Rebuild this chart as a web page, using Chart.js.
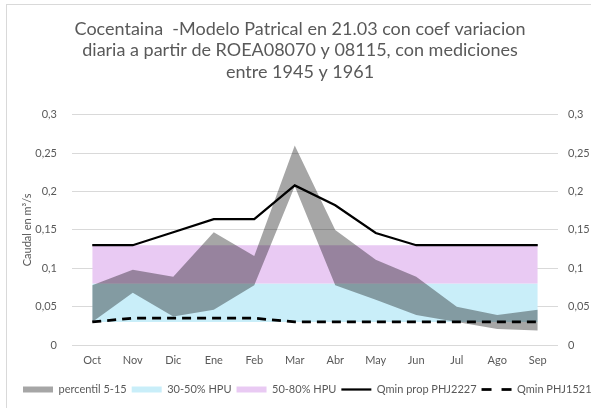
<!DOCTYPE html>
<html>
<head>
<meta charset="utf-8">
<script src="https://cdn.jsdelivr.net/npm/chart.js@4"></script>
<style>
html,body{margin:0;padding:0;background:#fff;overflow:hidden;}
#wrap{position:absolute;left:0;top:0;width:591px;height:408px;}
#frame{position:absolute;left:6px;top:4px;width:700px;height:600px;border:1px solid #d9d9d9;box-sizing:border-box;}
canvas{position:absolute;left:0;top:0;}
</style>
</head>
<body>
<div id="wrap"><div id="frame"></div><canvas id="c" width="591" height="408"></canvas></div>
<script>
const titleLines = ['Cocentaina  -Modelo Patrical en 21.03 con coef variacion','diaria a partir de ROEA08070 y 08115, con mediciones','entre 1945 y 1961'];
const months = ['Oct','Nov','Dic','Ene','Feb','Mar','Abr','May','Jun','Jul','Ago','Sep'];
const percentil5 = [0.030,0.068,0.037,0.046,0.078,0.207,0.078,0.059,0.039,0.030,0.021,0.019];
const percentil15 = [0.078,0.098,0.089,0.147,0.116,0.260,0.150,0.111,0.089,0.050,0.039,0.046];
const hpu30 = [0.03,0.03,0.03,0.03,0.03,0.03,0.03,0.03,0.03,0.03,0.03,0.03];
const hpu50 = [0.08,0.08,0.08,0.08,0.08,0.08,0.08,0.08,0.08,0.08,0.08,0.08];
const hpu80 = [0.13,0.13,0.13,0.13,0.13,0.13,0.13,0.13,0.13,0.13,0.13,0.13];
const qminProp = [0.130,0.130,0.147,0.164,0.164,0.208,0.182,0.146,0.130,0.130,0.130,0.130];
const qmin1521 = [0.030,0.035,0.035,0.035,0.035,0.030,0.030,0.030,0.030,0.030,0.030,0.030];
const yTicks = [0,0.05,0.1,0.15,0.2,0.25,0.3];
const legendNames = ['percentil 5-15','30-50% HPU','50-80% HPU','Qmin prop PHJ2227','Qmin PHJ1521'];

const FONT = 'Lato';
const TXT = '#595959';
const GREY = 'rgba(0,0,0,0.35)';
const CYAN = '#c9eef9';
const PURPLE = '#e9caf3';

const fmt = v => String(Number(v.toFixed(2))).replace('.', ',');

const boxPos = {
  id: 'boxPos',
  beforeLayout(chart) {
    const lg = chart.legend;
    if (lg && !lg.__patched) {
      const u = lg.update;
      lg.update = function(mw, mh, m) { return u.call(this, mw + 40, mh, m); };
      lg.__patched = true;
    }
  },
  afterLayout(chart) {
    chart.legend.left = 18;
    chart.legend.right = 640;
    chart.titleBlock.left = 9;
  }
};

new Chart(document.getElementById('c'), {
  type: 'line',
  data: {
    labels: months,
    datasets: [
      {label: legendNames[3], data: qminProp, borderColor: '#000', borderWidth: 2.25, pointRadius: 0, fill: false, order: 0, tension: 0},
      {label: legendNames[4], data: qmin1521, borderColor: '#000', borderWidth: 2.75, borderDash: [9, 6], pointRadius: 0, fill: false, order: 1, tension: 0},
      {label: legendNames[0], data: percentil15, borderWidth: 0, borderColor: 'transparent', backgroundColor: GREY, pointRadius: 0, fill: 3, order: 2},
      {label: 'p5', data: percentil5, borderWidth: 0, borderColor: 'transparent', pointRadius: 0, fill: false, order: 3},
      {label: legendNames[2], data: hpu80, borderWidth: 0, borderColor: 'transparent', backgroundColor: PURPLE, pointRadius: 0, fill: 5, order: 4},
      {label: legendNames[1], data: hpu50, borderWidth: 0, borderColor: 'transparent', backgroundColor: CYAN, pointRadius: 0, fill: 6, order: 5},
      {label: 'base', data: hpu30, borderWidth: 0, borderColor: 'transparent', pointRadius: 0, fill: false, order: 6}
    ]
  },
  options: {
    responsive: false,
    animation: false,
    devicePixelRatio: 1,
    layout: {padding: {left: 0, right: 0, top: 0, bottom: 3}},
    plugins: {
      tooltip: {enabled: false},
      title: {
        display: true,
        text: titleLines,
        color: TXT,
        font: {family: FONT, size: 18, weight: 'normal', lineHeight: 1.2},
        padding: {top: 18, bottom: 32}
      },
      legend: {
        position: 'bottom',
        align: 'start',
        onClick: null,
        labels: {
          color: TXT,
          font: {family: FONT, size: 11},
          padding: 5,
          usePointStyle: true,
          pointStyleWidth: 30,
          boxHeight: 6,
          generateLabels() {
            return [
              {text: legendNames[0], fillStyle: '#a6a6a6', strokeStyle: '#a6a6a6', lineWidth: 0, pointStyle: 'rect', fontColor: TXT},
              {text: legendNames[1], fillStyle: CYAN, strokeStyle: CYAN, lineWidth: 0, pointStyle: 'rect', fontColor: TXT},
              {text: legendNames[2], fillStyle: PURPLE, strokeStyle: PURPLE, lineWidth: 0, pointStyle: 'rect', fontColor: TXT},
              {text: legendNames[3], fillStyle: '#000', strokeStyle: '#000', lineWidth: 2.25, pointStyle: 'line', fontColor: TXT},
              {text: legendNames[4], fillStyle: '#000', strokeStyle: '#000', lineWidth: 2.75, lineDash: [10, 10], pointStyle: 'line', fontColor: TXT}
            ];
          }
        }
      }
    },
    scales: {
      x: {
        offset: true,
        grid: {display: false, drawTicks: false},
        border: {display: false},
        ticks: {color: TXT, font: {family: FONT, size: 11}, padding: 9, maxRotation: 0},
        afterFit(s) { s.height = 34; }
      },
      y: {
        position: 'left',
        min: 0, max: 0.3,
        afterBuildTicks(s) { s.ticks = yTicks.map(v => ({value: v})); },
        grid: {color: '#d9d9d9', lineWidth: 1, drawTicks: false},
        border: {display: false},
        ticks: {color: TXT, font: {family: FONT, size: 11}, padding: 15, callback: v => fmt(v)},
        title: {display: true, text: 'Caudal en m³/s', color: TXT, font: {family: FONT, size: 11}, padding: {top: 21, bottom: 0}},
        afterFit(s) { s.width = 72; }
      },
      y2: {
        position: 'right',
        min: 0, max: 0.3,
        afterBuildTicks(s) { s.ticks = yTicks.map(v => ({value: v})); },
        grid: {display: false, drawTicks: false},
        border: {display: false},
        ticks: {color: TXT, font: {family: FONT, size: 11}, padding: 10, callback: v => fmt(v)},
        afterFit(s) { s.width = 33; }
      }
    }
  },
  plugins: [boxPos]
});
</script>
</body>
</html>
